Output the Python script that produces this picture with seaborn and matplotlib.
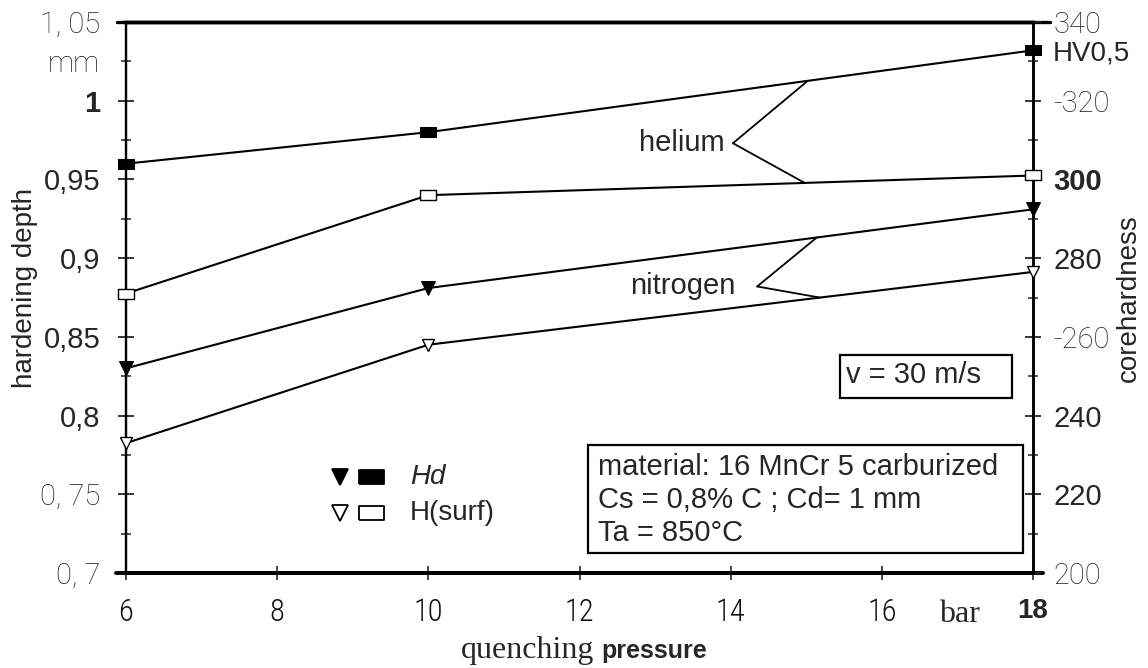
import numpy as np
import pandas as pd
import matplotlib
matplotlib.use("Agg")
import matplotlib.pyplot as plt
from matplotlib.lines import Line2D
from matplotlib.patches import Rectangle
import seaborn as sns

# ---------------- data ----------------
pressure = [6, 10, 18]
helium_depth = [0.960, 0.980, 1.032]      # filled squares (left axis, mm)
nitrogen_depth = [0.830, 0.881, 0.931]    # filled triangles (left axis, mm)
helium_hv = [271.0, 296.0, 301.0]         # open squares (right axis, HV0,5)
nitrogen_hv = [233.0, 258.0, 276.5]       # open triangles (right axis, HV0,5)

x_ticks = [6, 8, 10, 12, 14, 16, 18]
x_tick_labels = ["6", "8", "10", "12", "14", "16", "18"]
left_ticks = [0.7, 0.75, 0.8, 0.85, 0.9, 0.95, 1.0, 1.05]
left_tick_labels = ["0, 7", "0, 75", "0,8", "0,85", "0,9", "0,95", "1", "1, 05"]
left_minor = [0.725, 0.775, 0.825, 0.875, 0.925, 0.975, 1.025]
left_minor_labels = ["", "", "", "", "", "", "mm"]
right_ticks = [200, 220, 240, 260, 280, 300, 320, 340]
right_tick_labels = ["200", "220", "240", "-260", "280", "300", "-320", "340"]
right_minor = [210, 230, 250, 270, 290, 310, 330]

# ---------------- style ----------------
sns.set_style("white")
plt.rcParams['font.family'] = ['Liberation Sans', 'DejaVu Sans']
plt.rcParams['axes.edgecolor'] = 'black'

W, H = 1148, 668
fig = plt.figure(figsize=(W / 100, H / 100), dpi=100)
L, R, T, B = 126, 1033, 22, 573
ax = fig.add_axes([L / W, 1 - B / H, (R - L) / W, (B - T) / H])
ax2 = ax.twinx()

ax.set_xlim(6, 18)
ax.set_ylim(0.7, 1.05)
ax2.set_ylim(200, 340)

rect = [(-1, -0.65), (1, -0.65), (1, 0.65), (-1, 0.65), (-1, -0.65)]
lw = 1.5

sns.lineplot(x=pressure, y=helium_depth, ax=ax, color='black', linewidth=lw,
             marker=rect, markersize=12, markerfacecolor='black',
             markeredgecolor='black', clip_on=False, zorder=5)
sns.lineplot(x=pressure, y=nitrogen_depth, ax=ax, color='black', linewidth=lw,
             marker='v', markersize=10, markerfacecolor='black',
             markeredgecolor='black', clip_on=False, zorder=5)
sns.lineplot(x=pressure, y=helium_hv, ax=ax2, color='black', linewidth=lw,
             marker=rect, markersize=12, markerfacecolor='white',
             markeredgecolor='black', markeredgewidth=1.0, clip_on=False, zorder=5)
sns.lineplot(x=pressure, y=nitrogen_hv, ax=ax2, color='black', linewidth=lw,
             marker='v', markersize=8, markerfacecolor='white',
             markeredgecolor='black', markeredgewidth=1.0, clip_on=False, zorder=5)

# ---------------- spines ----------------
for a in (ax, ax2):
    for s in a.spines.values():
        s.set_color('black')
    a.spines['top'].set_linewidth(2.4)
    a.spines['bottom'].set_linewidth(2.8)
    a.spines['left'].set_linewidth(1.6)
    a.spines['right'].set_linewidth(1.8)
ax.add_line(Line2D([-0.010, 1.019], [1, 1], transform=ax.transAxes,
                   color='black', lw=2.4, clip_on=False))
ax.add_line(Line2D([-0.011, 1.011], [0, 0], transform=ax.transAxes,
                   color='black', lw=2.8, clip_on=False))

# ---------------- ticks ----------------
light_family = ['Roboto', 'Liberation Sans']

ax.set_xticks(x_ticks, x_tick_labels)
ax.tick_params(axis='x', direction='inout', length=10, width=1.2, pad=13,
               bottom=True, top=False, labelsize=22)
for lab in ax.get_xticklabels():
    if lab.get_text() == "18":
        lab.set_fontweight('bold')
        lab.set_family(['Liberation Sans'])
        lab.set_fontsize(20)
    else:
        lab.set_family(['Roboto Condensed', 'Liberation Sans Narrow', 'Roboto'])
        lab.set_fontweight('light')
        lab.set_color('#111111')

ax.set_yticks(left_ticks, left_tick_labels)
ax.set_yticks(left_minor, left_minor_labels, minor=True)
ax.tick_params(axis='y', which='major', direction='inout', length=11, width=1.3,
               pad=13, left=True, right=False, labelsize=21)
ax.tick_params(axis='y', which='minor', direction='inout', length=7, width=1.1,
               pad=15, left=True, right=False, labelsize=21)
for lab in ax.get_yticklabels():
    t = lab.get_text()
    if t in ("1, 05", "0, 75", "0, 7"):
        lab.set_family(light_family); lab.set_fontweight('light'); lab.set_color('#222222')
    elif t == "1":
        lab.set_fontweight('bold')
for lab in ax.get_yticklabels(minor=True):
    lab.set_family(light_family); lab.set_fontweight('light'); lab.set_color('#222222')

ax2.set_yticks(right_ticks, right_tick_labels)
ax2.set_yticks(right_minor, minor=True)
ax2.tick_params(axis='y', which='major', direction='inout', length=11, width=1.3,
                pad=9, right=True, left=False, labelsize=21)
ax2.tick_params(axis='y', which='minor', direction='inout', length=7, width=1.1,
                right=True, left=False)
for lab in ax2.get_yticklabels():
    t = lab.get_text()
    if t in ("340", "-320", "-260", "200"):
        lab.set_family(light_family); lab.set_fontweight('light'); lab.set_color('#222222')
    elif t == "300":
        lab.set_fontweight('bold')
ax2.text(1.022, 331.9, "HV0,5", transform=ax2.get_yaxis_transform(),
         ha='left', va='center', fontsize=20)

ax.grid(False); ax2.grid(False)

# ---------------- axis labels ----------------
fig.text(25 / W, 1 - 288 / H, "hardening depth", rotation=90, ha='center',
         va='center', fontsize=20)
fig.text(1129 / W, 1 - 298 / H, "corehardness", rotation=90, ha='center',
         va='center', fontsize=20)
fig.text(594 / W, 1 - 658 / H, "quenching", ha='right', va='baseline',
         fontsize=23, family=['Liberation Serif'])
fig.text(601 / W, 1 - 658 / H, "pressure", ha='left', va='baseline',
         fontsize=18, fontweight='bold')
ax.text(17.03, (B - 622) / (B - T), "bar", transform=ax.get_xaxis_transform(),
        ha='center', va='baseline', fontsize=23, family=['Liberation Serif'])

# ---------------- annotations (helium / nitrogen pointers) ----------------
def to_left(hv):
    return 0.7 + (np.asarray(hv) - 200.0) * 0.35 / 140.0

ax.text(13.92, 0.973, "helium", ha='right', va='center', fontsize=21)
vx, vy = 14.03, 0.973
for tx, series in ((15.02, helium_depth), (14.98, to_left(helium_hv))):
    ty = np.interp(tx, pressure, series)
    ax.annotate("", xy=(tx, ty), xytext=(vx, vy),
                arrowprops=dict(arrowstyle='-', lw=1.3, color='black',
                                shrinkA=0, shrinkB=0))

ax.text(14.06, 0.882, "nitrogen", ha='right', va='center', fontsize=21)
vx, vy = 14.35, 0.882
for tx, series in ((15.14, nitrogen_depth), (15.18, to_left(nitrogen_hv))):
    ty = np.interp(tx, pressure, series)
    ax.annotate("", xy=(tx, ty), xytext=(vx, vy),
                arrowprops=dict(arrowstyle='-', lw=1.3, color='black',
                                shrinkA=0, shrinkB=0))

# ---------------- boxes ----------------
def px_x(p):
    return (p - L) / (R - L)

def px_y(p):
    return (B - p) / (B - T)

ax2.add_patch(Rectangle((px_x(840), px_y(398)), px_x(1012) - px_x(840),
                        px_y(355) - px_y(398), transform=ax.transAxes,
                        fill=True, facecolor='white', edgecolor='black',
                        lw=1.6, clip_on=False, zorder=6))
ax2.text(px_x(846), px_y(375), "v = 30 m/s", transform=ax.transAxes,
         ha='left', va='center', fontsize=21, zorder=7)

ax2.add_patch(Rectangle((px_x(588), px_y(553)), px_x(1023) - px_x(588),
                        px_y(445) - px_y(553), transform=ax.transAxes,
                        fill=True, facecolor='white', edgecolor='black',
                        lw=1.6, clip_on=False, zorder=6))
box_lines = ["material: 16 MnCr 5 carburized", "Cs = 0,8% C ; Cd= 1 mm", "Ta = 850°C"]
for line, yy in zip(box_lines, (467, 500, 533)):
    ax2.text(px_x(598), px_y(yy), line, transform=ax.transAxes,
             ha='left', va='center', fontsize=21, zorder=7)

# ---------------- legend ----------------
leg_rect = [(-1, -0.55), (1, -0.55), (1, 0.55), (-1, 0.55), (-1, -0.55)]
for yy, fc, label, style in ((477, 'black', "Hd", 'italic'),
                             (513, 'white', "H(surf)", 'normal')):
    ax2.add_line(Line2D([px_x(340)], [px_y(yy)], transform=ax.transAxes,
                        marker='v', ms=12, mfc=fc, mec='black', mew=1.3,
                        ls='none', clip_on=False))
    ax2.add_line(Line2D([px_x(371)], [px_y(yy)], transform=ax.transAxes,
                        marker=leg_rect, ms=18, mfc=fc, mec='black', mew=1.3,
                        ls='none', clip_on=False))
    ax2.text(px_x(410), px_y(yy), label, transform=ax.transAxes, ha='left',
             va='center', fontsize=20, fontstyle=style)

fig.savefig("out.png", dpi=100, facecolor='white')
